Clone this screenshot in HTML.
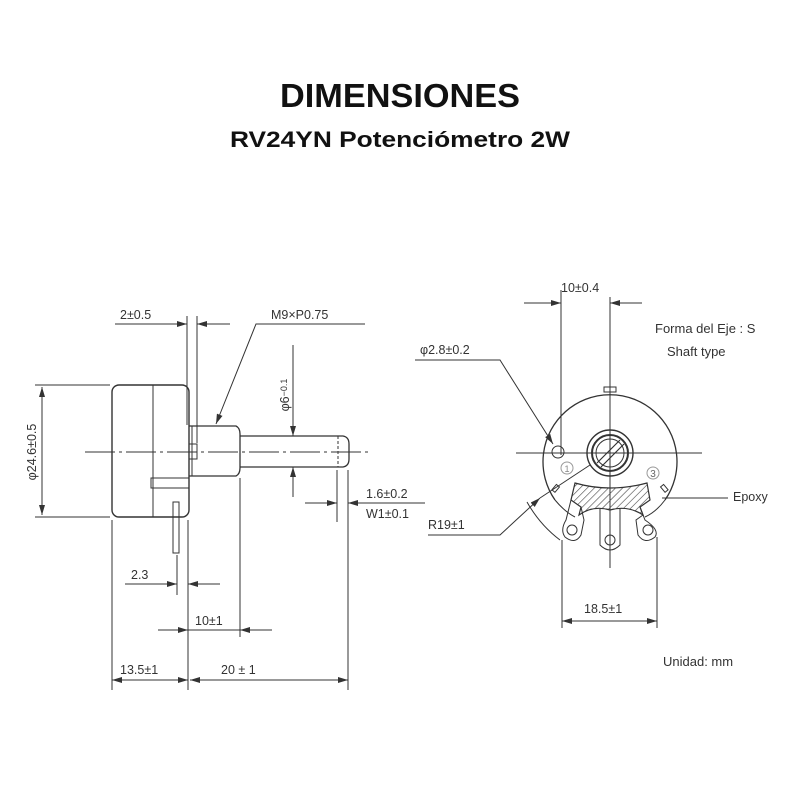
<!DOCTYPE html>
<html><head><meta charset="utf-8"><style>
html,body{margin:0;padding:0;background:#fff;width:800px;height:800px;overflow:hidden}
svg{display:block}
text{font-family:"Liberation Sans",sans-serif;fill:#333}
</style></head><body>
<svg width="800" height="800" viewBox="0 0 800 800" xmlns="http://www.w3.org/2000/svg">
<defs>
<marker id="a" viewBox="0 0 10 6" refX="10" refY="3" markerWidth="10" markerHeight="6" orient="auto-start-reverse" markerUnits="userSpaceOnUse"><path d="M0,0 L10,3 L0,6z" fill="#333"/></marker>
<pattern id="h" width="5" height="5" patternUnits="userSpaceOnUse" patternTransform="rotate(45)"><line x1="0" y1="0" x2="0" y2="5" stroke="#444" stroke-width="1.2"/></pattern>
</defs>
<text x="400" y="107" text-anchor="middle" font-size="33" font-weight="bold" textLength="240" lengthAdjust="spacingAndGlyphs" style="fill:#111">DIMENSIONES</text>
<text x="400" y="147" text-anchor="middle" font-size="22" font-weight="bold" textLength="340" lengthAdjust="spacingAndGlyphs" style="fill:#111">RV24YN Potenciómetro 2W</text>

<g stroke="#333" fill="none" stroke-width="1">
<!-- LEFT VIEW -->
<rect x="112" y="385" width="77" height="132" rx="7" stroke-width="1.4"/>
<line x1="153" y1="385" x2="153" y2="517"/>
<path d="M189 426 H236 Q240 428 240 434 V468 Q240 474 236 476 H189" stroke-width="1.3"/>
<line x1="192" y1="426" x2="192" y2="476"/>
<rect x="189" y="444" width="8" height="15"/>
<rect x="151" y="478" width="38" height="10"/>
<rect x="173" y="502" width="6" height="51"/>
<path d="M240 436 H343 Q349 437 349 444 V459 Q349 466 343 467 H240" stroke-width="1.3"/>
<line x1="338" y1="436" x2="338" y2="467" stroke-dasharray="3,2"/>
<line x1="85" y1="452" x2="370" y2="452" stroke-dasharray="30,4,3,4"/>
<line x1="35" y1="385" x2="110" y2="385"/><line x1="35" y1="517" x2="110" y2="517"/>
<line x1="42" y1="387" x2="42" y2="515" marker-start="url(#a)" marker-end="url(#a)"/>
<line x1="187" y1="316" x2="187" y2="425"/><line x1="197" y1="316" x2="197" y2="443"/>
<line x1="115" y1="324" x2="187" y2="324" marker-end="url(#a)"/>
<line x1="230" y1="324" x2="197" y2="324" marker-end="url(#a)"/>
<path d="M365 324 H256 L216 424" marker-end="url(#a)"/>
<line x1="293" y1="345" x2="293" y2="436" marker-end="url(#a)"/>
<line x1="293" y1="497" x2="293" y2="467" marker-end="url(#a)"/>
<line x1="337" y1="470" x2="337" y2="522"/><line x1="348" y1="470" x2="348" y2="528"/>
<line x1="305" y1="503" x2="337" y2="503" marker-end="url(#a)"/>
<line x1="380" y1="503" x2="348" y2="503" marker-end="url(#a)"/>
<line x1="360" y1="503" x2="425" y2="503"/>
<line x1="177" y1="555" x2="177" y2="595"/><line x1="188" y1="520" x2="188" y2="690"/>
<line x1="125" y1="584" x2="177" y2="584" marker-end="url(#a)"/>
<line x1="220" y1="584" x2="188" y2="584" marker-end="url(#a)"/>
<line x1="240" y1="478" x2="240" y2="637"/>
<line x1="158" y1="630" x2="188" y2="630" marker-end="url(#a)"/>
<line x1="272" y1="630" x2="240" y2="630" marker-end="url(#a)"/>
<line x1="188" y1="630" x2="240" y2="630"/>
<line x1="112" y1="520" x2="112" y2="690"/><line x1="348" y1="528" x2="348" y2="690"/>
<line x1="188" y1="680" x2="112" y2="680" marker-end="url(#a)"/>
<line x1="150" y1="680" x2="188" y2="680" marker-end="url(#a)"/>
<line x1="268" y1="680" x2="190" y2="680" marker-end="url(#a)"/>
<line x1="268" y1="680" x2="348" y2="680" marker-end="url(#a)"/>

<!-- RIGHT VIEW -->
<path d="M555 500 A67 67 0 1 1 665 500" stroke-width="1.3"/>
<path d="M555 500 Q565 512 575 517 M665 500 Q656 512 645 517"/>
<rect x="604" y="387" width="12" height="5"/>
<line x1="516" y1="453" x2="702" y2="453"/>
<line x1="610" y1="297" x2="610" y2="568"/>
<circle cx="558" cy="452" r="6"/>
<circle cx="610" cy="453" r="23" stroke-width="1.4"/>
<circle cx="610" cy="453" r="18" stroke-width="2"/>
<circle cx="610" cy="453" r="14"/>
<path d="M597 463 L620 440 M601 467 L624 444" stroke-width="1.2"/>
<circle cx="567" cy="468" r="6" stroke="#999"/>
<circle cx="653" cy="473" r="6" stroke="#999"/>
<path d="M575 483 Q610 493 647 483 L650 500 L640 507 L643 515 Q628 505 610 510 Q593 505 579 515 L581 507 L571 500 Z" fill="url(#h)" stroke-width="1.2"/>
<path d="M571 500 L566 520 Q560 530 565 537 Q575 545 581 535 L584 520 L581 507"/>
<circle cx="572" cy="530" r="5"/>
<path d="M600 509 L600 545 Q610 555 620 545 L620 509"/>
<circle cx="610" cy="540" r="5"/>
<path d="M640 507 L645 520 Q660 530 655 537 Q645 545 638 535 L636 520 L643 515"/>
<circle cx="648" cy="530" r="5"/>
<rect x="554" y="485" width="4" height="7" transform="rotate(40 556 488)"/>
<rect x="662" y="485" width="4" height="7" transform="rotate(-40 664 488)"/>
<line x1="561" y1="290" x2="561" y2="455"/>
<line x1="524" y1="303" x2="561" y2="303" marker-end="url(#a)"/>
<line x1="642" y1="303" x2="610" y2="303" marker-end="url(#a)"/>
<path d="M415 360 H500 L553 444" marker-end="url(#a)"/>
<path d="M428 535 H500 L540 498" marker-end="url(#a)"/>
<line x1="540" y1="498" x2="590" y2="465"/>
<path d="M527 502 Q540 525 560 540"/>
<line x1="728" y1="498" x2="662" y2="498"/>
<line x1="562" y1="540" x2="562" y2="628"/><line x1="657" y1="537" x2="657" y2="628"/>
<line x1="600" y1="621" x2="562" y2="621" marker-end="url(#a)"/>
<line x1="600" y1="621" x2="657" y2="621" marker-end="url(#a)"/>
</g>

<g font-size="12.5">
<text x="120" y="319">2±0.5</text>
<text x="271" y="319">M9×P0.75</text>
<text transform="translate(36 452) rotate(-90)" text-anchor="middle">φ24.6±0.5</text>
<text transform="translate(289 395) rotate(-90)" text-anchor="middle">φ6<tspan font-size="9" dy="-2">−0.1</tspan></text>
<text x="366" y="498">1.6±0.2</text>
<text x="366" y="518">W1±0.1</text>
<text x="131" y="579">2.3</text>
<text x="195" y="625">10±1</text>
<text x="120" y="674">13.5±1</text>
<text x="221" y="674">20 ± 1</text>
<text x="561" y="292">10±0.4</text>
<text x="420" y="354">φ2.8±0.2</text>
<text x="428" y="529">R19±1</text>
<text x="733" y="501">Epoxy</text>
<text x="584" y="613">18.5±1</text>
<text x="655" y="333" font-size="13">Forma del Eje : S</text>
<text x="667" y="356" font-size="13">Shaft type</text>
<text x="663" y="666" font-size="13">Unidad: mm</text>
<text x="567" y="472" font-size="9" text-anchor="middle" style="fill:#888">1</text>
<text x="653" y="477" font-size="10" text-anchor="middle" style="fill:#666">3</text>
</g>
</svg>
</body></html>
